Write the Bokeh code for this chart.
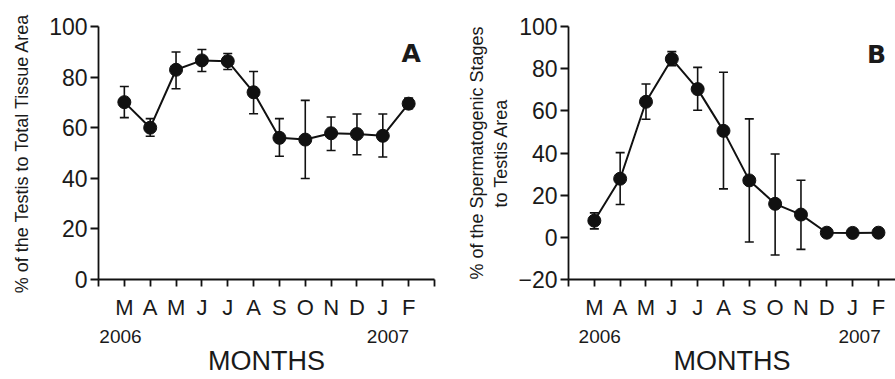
from bokeh.plotting import figure
from bokeh.layouts import row
from bokeh.models import Label, FixedTicker, Range1d, LinearAxis
from bokeh.embed import file_html
from bokeh.resources import INLINE

months = ["M", "A", "M", "J", "J", "A", "S", "O", "N", "D", "J", "F"]
xpos = list(range(1, 13))
years = ["2006", "2007"]

# Panel A: % of the testis to total tissue area
a_mean = [70.1, 60.0, 82.9, 86.6, 86.3, 74.0, 56.0, 55.3, 57.8, 57.5, 56.8, 69.5]
a_upper = [76.3, 63.6, 89.9, 90.9, 89.3, 82.2, 63.6, 70.8, 64.2, 65.4, 65.4, 71.7]
a_lower = [64.0, 56.6, 75.4, 82.2, 83.0, 65.5, 48.7, 39.9, 51.0, 49.3, 48.4, 67.5]

# Panel B: % of spermatogenic stages to testis area
b_mean = [7.9, 27.8, 64.3, 84.6, 70.3, 50.5, 27.0, 15.9, 10.8, 2.2, 2.1, 2.2]
b_upper = [11.6, 40.2, 72.7, 88.1, 80.6, 78.3, 56.2, 39.5, 27.1, 2.2, 2.1, 2.2]
b_lower = [4.0, 15.6, 56.0, 81.4, 60.3, 23.0, -2.2, -8.4, -5.7, 2.2, 2.1, 2.2]

a_yticks = [0, 20, 40, 60, 80, 100]
b_yticks = [-20, 0, 20, 40, 60, 80, 100]

FONT = "Liberation Sans"
TXT = "#1a1a1a"
INK = "#111111"


def make(frame_w, ylo, yhi, xhi, mean, upper, lower, yticks, ylabel, border_left,
         border_right, letter, letter_xy, year_pos, ystand):
    p = figure(frame_width=frame_w, frame_height=253, output_backend="svg",
               toolbar_location=None,
               x_range=Range1d(0, xhi), y_range=Range1d(ylo, yhi),
               min_border_left=border_left, min_border_right=border_right,
               min_border_top=26, min_border_bottom=100)
    p.outline_line_color = None
    p.xgrid.grid_line_color = None
    p.ygrid.grid_line_color = None
    p.background_fill_color = "white"
    p.border_fill_color = "white"

    # error bars
    p.segment(x0=xpos, y0=lower, x1=xpos, y1=upper, line_color=INK, line_width=1.6)
    p.scatter(x=xpos + xpos, y=upper + lower, marker="dash", size=9,
              line_color=INK, line_width=1.6)
    p.line(x=xpos, y=mean, line_color=INK, line_width=2)
    p.scatter(x=xpos, y=mean, size=13, fill_color=INK, line_color=INK)

    for ax in (p.xaxis[0], p.yaxis[0]):
        ax.axis_line_color = INK
        ax.axis_line_width = 1.8
        ax.major_tick_line_color = INK
        ax.major_tick_line_width = 1.8
        ax.major_tick_in = 0
        ax.major_tick_out = 8
        ax.minor_tick_line_color = None
        ax.major_label_text_font = FONT
        ax.major_label_text_color = TXT

    p.xaxis.ticker = FixedTicker(ticks=list(range(0, 14)))
    overrides = {i: "" for i in range(0, 14)}
    for i, m in zip(xpos, months):
        overrides[i] = m
    p.xaxis.major_label_overrides = overrides
    p.xaxis.major_tick_out = 7
    p.xaxis.major_label_standoff = 8
    p.xaxis.major_label_text_font_size = "22px"

    p.yaxis.ticker = FixedTicker(ticks=yticks)
    p.yaxis.major_label_standoff = 3
    p.yaxis.major_label_text_font_size = "23px"
    p.yaxis.axis_label = ylabel
    p.yaxis.axis_label_text_font = FONT
    p.yaxis.axis_label_text_font_style = "normal"
    p.yaxis.axis_label_text_font_size = "18px"
    p.yaxis.axis_label_text_color = TXT
    p.yaxis.axis_label_standoff = ystand

    # second axis below: years and "MONTHS"
    yax = LinearAxis(ticker=FixedTicker(ticks=year_pos),
                     major_label_overrides={year_pos[0]: years[0], year_pos[1]: years[1]})
    yax.axis_line_color = None
    yax.major_tick_line_color = None
    yax.minor_tick_line_color = None
    yax.major_tick_out = 0
    yax.major_tick_in = 0
    yax.major_label_standoff = 7
    yax.major_label_text_font = FONT
    yax.major_label_text_font_size = "19px"
    yax.major_label_text_color = TXT
    yax.axis_label = "MONTHS"
    yax.axis_label_text_font = FONT
    yax.axis_label_text_font_style = "normal"
    yax.axis_label_text_font_size = "27px"
    yax.axis_label_text_color = TXT
    yax.axis_label_standoff = 0
    p.add_layout(yax, "below")

    p.add_layout(Label(x=letter_xy[0], y=letter_xy[1], text=letter, text_font="DejaVu Sans",
                       text_font_style="bold", text_font_size="25px", text_color=TXT,
                       text_align="center", text_baseline="middle"))
    return p


pa = make(336, 0, 100, 13, a_mean, a_upper, a_lower, a_yticks,
          "% of the Testis to Total Tissue Area", 98, 6, "A", (12.1, 89.2),
          [0.85, 11.2], 14)
pb = make(327, -20, 100, 12.66, b_mean, b_upper, b_lower, b_yticks,
          "% of the Spermatogenic Stages\nto Testis Area", 128, 0, "B", (11.93, 86.7),
          [1.21, 11.27], 4)

layout = row(pa, pb)
open("out.html", "w").write(file_html(layout, INLINE))
